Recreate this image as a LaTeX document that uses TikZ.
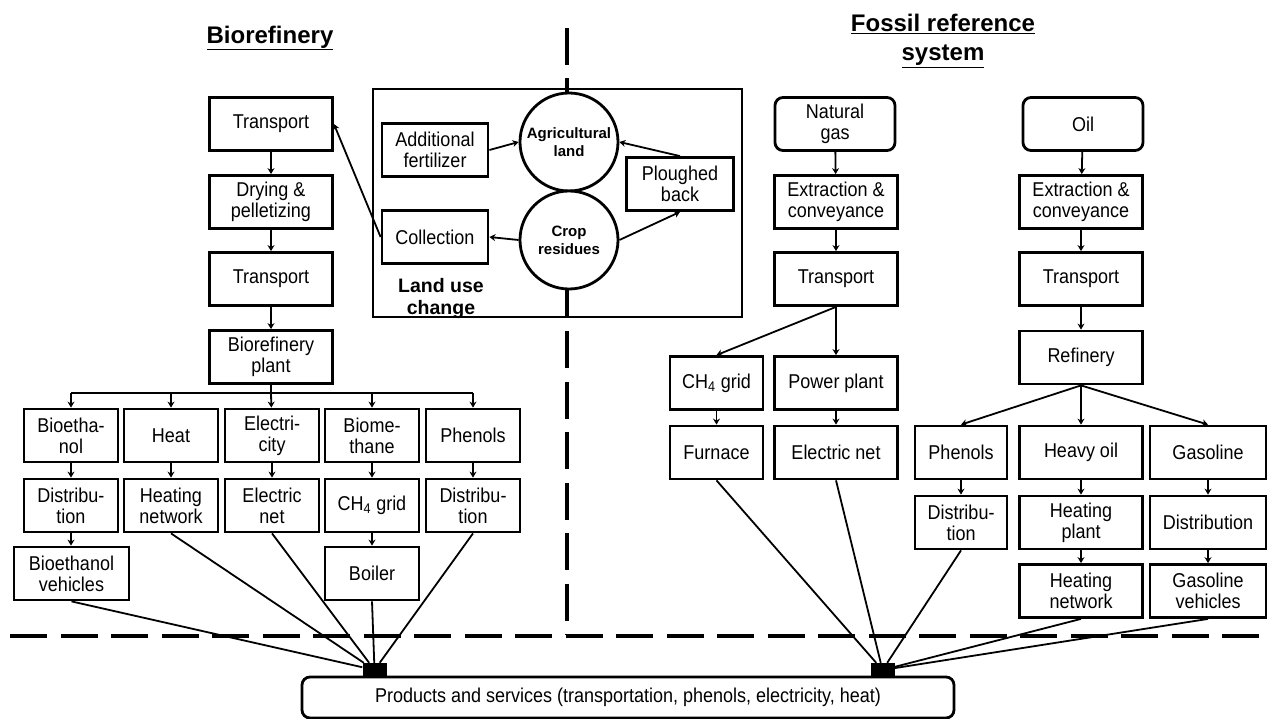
\documentclass[tikz,border=0pt]{standalone}
\usepackage{fontspec}
\setmainfont{Liberation Sans}
\newfontfamily\boxfont{Liberation Sans}[FakeStretch=0.9]
\usetikzlibrary{arrows.meta}

\begin{document}
\begin{tikzpicture}[x=1pt,y=-1pt,
    box/.style={draw,line width=2.8pt,inner sep=0pt,align=center,
                minimum width=94pt,minimum height=53pt,
                font=\boxfont\fontsize{20}{21}\selectfont},
    wide/.style={box,minimum width=123pt},
    source/.style={wide,rounded corners=8pt,minimum width=120pt},
    pool/.style={circle,draw,line width=2.8pt,fill=white,inner sep=0pt,
                 minimum size=98pt,align=center,
                 font=\bfseries\fontsize{15}{18}\selectfont},
    arr/.style={-{Stealth[length=6pt,width=7pt]},line width=1.8pt},
    link/.style={line width=1.8pt},
    hub/.style={fill=black,inner sep=0pt,minimum width=24pt,minimum height=14pt},
    cutline/.style={line width=4.5pt,dash pattern=on 37pt off 13.5pt},
    title/.style={font=\bfseries\fontsize{24}{29}\selectfont,align=center}]
    \useasboundingbox (0,0) rectangle (1268,719);
    \draw[cutline] (567,28) -- (567,635);
    \draw[cutline] (10,636) -- (1268,636);

    \node[title] (bioT) at (270,38) {\underline{Biorefinery}};
    \node[title] (fosT) at (943,41) {\underline{Fossil reference}\\\underline{system}};

    \node[draw,line width=2.8pt,inner sep=0pt,minimum width=369pt,
          minimum height=228pt] (luc) at (557.5,203) {};
    \node[font=\bfseries\fontsize{19.5}{22}\selectfont,align=center]
          (lucT) at (441,299) {Land use\\change};
    \node[box,minimum width=106pt] (fert) at (435,150) {Additional\\fertilizer};
    \node[box,minimum width=106pt] (coll) at (435,237) {Collection};
    \node[pool] (agri) at (569,142) {Agricultural\\land};
    \node[pool] (crop) at (569,240) {Crop\\residues};
    \node[box,minimum width=107pt] (plough) at (680,184) {Ploughed\\back};

    \node[wide] (tpA) at (271,124) {Transport};
    \node[wide] (dry) at (271,202) {Drying \&\\pelletizing};
    \node[wide] (tpB) at (271,279) {Transport};
    \node[wide] (plant) at (271,357) {Biorefinery\\plant};
    \coordinate (split) at (271,393);

    \node[box] (ethA) at (71,435.5) {Bioetha-\\nol};
    \node[box] (heat) at (171,435.5) {Heat};
    \node[box] (elec) at (272,435.5) {Electri-\\city};
    \node[box] (meth) at (372,435.5) {Biome-\\thane};
    \node[box] (phenA) at (473,435.5) {Phenols};
    \node[box] (distA) at (71,505.5) {Distribu-\\tion};
    \node[box] (hnetA) at (171,505.5) {Heating\\network};
    \node[box] (enetA) at (272,505.5) {Electric\\net};
    \node[box] (gridA) at (372,505.5) {CH\textsubscript{4} grid};
    \node[box] (distB) at (473,505.5) {Distribu-\\tion};
    \node[box,minimum width=115pt] (vehA) at (71.5,573.5) {Bioethanol\\vehicles};
    \node[box] (boiler) at (372,573.5) {Boiler};

    \node[source] (gas) at (835,124) {Natural\\gas};
    \node[wide] (extG) at (836,202) {Extraction \&\\conveyance};
    \node[wide] (tpG) at (836,279) {Transport};
    \node[box,minimum width=93pt] (gridG) at (716.5,383) {CH\textsubscript{4} grid};
    \node[wide] (power) at (836,383) {Power plant};
    \node[box,minimum width=93pt] (furn) at (716.5,452.5) {Furnace};
    \node[wide] (enetG) at (836,452.5) {Electric net};

    \node[source] (oil) at (1083,124) {Oil};
    \node[wide] (extO) at (1081,202) {Extraction \&\\conveyance};
    \node[wide] (tpO) at (1081,279) {Transport};
    \node[wide] (refin) at (1081,357.5) {Refinery};
    \node[box,minimum width=92pt] (phenG) at (961,452.5) {Phenols};
    \node[wide] (heavy) at (1081,452.5) {Heavy oil};
    \node[box,minimum width=116pt] (gasol) at (1208,452.5) {Gasoline};
    \node[box,minimum width=92pt] (distG) at (961,522.5) {Distribu-\\tion};
    \node[wide] (hplant) at (1081,522.5) {Heating\\plant};
    \node[box,minimum width=116pt] (distO) at (1208,522.5) {Distribution};
    \node[wide] (hnetG) at (1081,591) {Heating\\network};
    \node[box,minimum width=116pt] (vehG) at (1208,591) {Gasoline\\vehicles};

    \node[box,rounded corners=8pt,minimum width=652pt,minimum height=41pt]
          (prod) at (628,697.5) {Products and services (transportation, phenols, electricity, heat)};
    \node[hub] (hubL) at (374.5,670) {};
    \node[hub] (hubR) at (882.5,670) {};

    \draw[arr] (fert.east) -- (agri.west);
    \draw[arr] (crop.west) -- (coll.east);
    \draw[arr] (crop.east) -- (plough.south);
    \draw[arr] (plough.north) -- (agri.east);
    \draw[arr] (coll.west) -- (tpA.east);

    \draw[arr] (tpA) -- (dry);
    \draw[arr] (dry) -- (tpB);
    \draw[arr] (tpB) -- (plant);
    \draw[link] (plant) -- (split);
    \draw[link] (split -| ethA) -- (split -| phenA);
    \draw[arr] (split -| ethA) -- (ethA);
    \draw[arr] (split -| heat) -- (heat);
    \draw[arr] (split) -- (elec);
    \draw[arr] (split -| meth) -- (meth);
    \draw[arr] (split -| phenA) -- (phenA);
    \draw[arr] (ethA) -- (distA);
    \draw[arr] (heat) -- (hnetA);
    \draw[arr] (elec) -- (enetA);
    \draw[arr] (meth) -- (gridA);
    \draw[arr] (phenA) -- (distB);
    \draw[arr] (distA) -- (distA |- vehA.north);
    \draw[arr] (gridA) -- (boiler);

    \draw[arr] (gas) -- (extG);
    \draw[arr] (extG) -- (tpG);
    \draw[arr] (tpG.south) -- (gridG.north);
    \draw[arr] (tpG) -- (power);
    \draw[arr] (gridG) -- (furn);
    \draw[arr] (power) -- (enetG);

    \draw[arr] (oil) -- (extO);
    \draw[arr] (extO) -- (tpO);
    \draw[arr] (tpO) -- (refin);
    \draw[arr] (refin.south) -- (phenG.north);
    \draw[arr] (refin.south) -- (heavy.north);
    \draw[arr] (refin.south) -- (gasol.north);
    \draw[arr] (phenG) -- (distG);
    \draw[arr] (heavy) -- (hplant);
    \draw[arr] (hplant) -- (hnetG);
    \draw[arr] (gasol) -- (distO);
    \draw[arr] (distO) -- (vehG);

    \draw[link] (vehA.south) -- (hubL);
    \draw[link] (hnetA.south) -- (hubL);
    \draw[link] (enetA.south) -- (hubL);
    \draw[link] (boiler.south) -- (hubL);
    \draw[link] (distB.south) -- (hubL);
    \draw[link] (furn.south) -- (hubR);
    \draw[link] (enetG.south) -- (hubR);
    \draw[link] (distG.south) -- (hubR);
    \draw[link] (hnetG.south) -- (hubR);
    \draw[link] (vehG.south) -- (hubR);
\end{tikzpicture}
\end{document}
